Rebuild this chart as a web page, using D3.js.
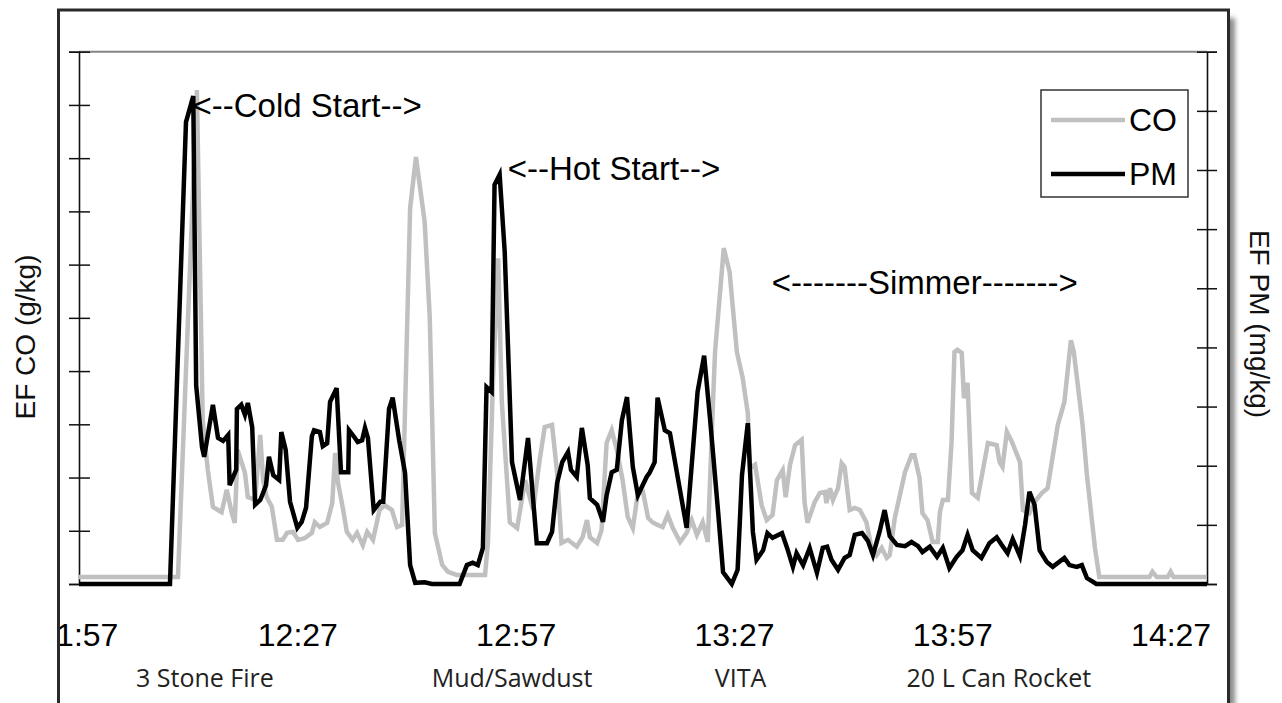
<!DOCTYPE html>
<html>
<head>
<meta charset="utf-8">
<script src="https://cdn.jsdelivr.net/npm/d3@7/dist/d3.min.js"></script>
<style>
  body { margin: 0; background: #fff; }
  svg { display: block; }
</style>
</head>
<body>
<svg id="chart" width="1282" height="703"></svg>
<script>
// minutes after 11:57, value on its own axis
var coData = [
  [0,1.3],[13.6,1.3],[16.2,92.8],[17.0,30.8],[17.7,21.4],[18.4,14.5],[19.1,13.9],[19.6,13.5],
  [20.3,17.7],[21.0,13.3],[21.4,11.5],[21.8,25.2],[22.8,20.9],[23.2,16.3],[24.2,15.8],[24.9,28.0],
  [25.3,19.5],[25.8,16.3],[26.5,14.5],[27.2,8.3],[28.0,8.3],[28.6,9.6],[29.4,9.8],[30.1,8.3],
  [31.0,8.6],[32.0,9.6],[32.4,11.6],[33.1,10.7],[34.1,11.5],[34.8,15.2],[35.2,24.6],[35.6,19.0],
  [36.3,13.9],[36.8,9.8],[37.6,8.3],[38.2,9.6],[39.0,7.3],[39.6,9.8],[40.4,8.3],[41.3,13.9],
  [42.0,14.8],[43.0,13.9],[43.7,10.7],[44.4,11.1],[45.5,70.6],[46.3,80.2],[47.5,68.0],[48.2,50.0],
  [48.9,9.6],[49.9,3.6],[50.7,2.3],[51.9,1.7],[55.8,1.7],[56.2,7.9],[56.9,38.7],[57.6,61.2],
  [58.1,34.2],[59.2,11.6],[60.2,10.5],[61.3,19.5],[62.4,13.9],[63.3,23.3],[64.0,29.5],[65.0,29.9],
  [65.7,20.9],[66.3,7.7],[67.2,8.3],[68.4,7.0],[69.2,8.8],[69.8,12.0],[70.2,8.8],[71.2,7.7],
  [71.8,10.1],[72.5,26.5],[73.2,28.9],[73.9,25.2],[74.7,19.5],[75.4,12.6],[76.1,10.5],[76.8,17.1],
  [77.5,17.3],[78.2,12.4],[78.8,11.6],[79.5,11.1],[80.2,10.7],[80.9,13.0],[81.6,10.5],[82.6,7.9],
  [83.5,9.6],[84.2,12.0],[84.9,9.2],[85.7,11.6],[86.4,7.9],[87.1,33.6],[87.4,43.6],[88.6,63.1],
  [89.4,58.6],[90.4,43.6],[91.2,38.7],[91.9,32.1],[92.2,21.8],[92.9,22.4],[93.8,14.8],[94.5,12.0],
  [95.3,13.0],[95.9,19.5],[96.7,21.4],[97.1,16.3],[97.7,22.4],[98.4,26.1],[99.3,27.1],[99.7,15.4],
  [100.1,11.5],[101.1,15.4],[101.8,17.1],[102.5,17.3],[102.7,15.2],[103.2,18.0],[103.6,15.8],[104.3,18.0],
  [104.8,22.7],[105.2,22.0],[105.9,13.9],[106.6,14.3],[107.3,13.9],[108.2,11.6],[108.9,6.8],[109.6,5.4],
  [110.3,6.8],[111.0,4.9],[111.4,5.4],[112.1,12.4],[113.5,21.0],[114.4,24.2],[114.8,24.2],[115.5,19.9],
  [115.9,13.3],[116.6,12.0],[117.3,7.9],[118.0,7.9],[118.3,13.5],[118.7,15.8],[119.4,15.8],[119.9,26.7],
  [120.3,43.6],[120.7,44.0],[121.3,43.4],[121.6,34.9],[122.1,37.8],[122.7,17.1],[123.5,16.2],[124.0,19.9],
  [124.9,26.5],[126.1,26.1],[126.5,22.9],[126.9,22.0],[127.5,28.6],[128.2,26.7],[129.3,22.9],[129.7,13.9],
  [130.6,13.3],[131.3,15.4],[132.3,17.1],[133.1,18.0],[134.5,29.9],[135.4,34.2],[136.3,45.8],[136.7,43.6],
  [137.9,29.9],[138.5,20.5],[139.6,6.8],[140.2,1.3],[147.1,1.3],[147.5,2.3],[148.1,1.3],[149.6,1.3],
  [150.0,2.3],[150.4,1.3],[155,1.3]
];

var pmData = [
  [0,0],[12.5,0],[14.7,78.1],[15.7,82.5],[16.1,33.6],[16.9,23.2],[17.2,21.5],[18.4,30.3],
  [19.1,24.7],[19.8,24.2],[20.5,25.2],[20.7,16.7],[21.6,19.3],[21.7,29.6],[22.3,30.3],[22.8,28.6],
  [23.2,30.6],[23.8,26.5],[24.2,13.4],[24.9,14.2],[25.3,15.4],[25.7,16.7],[26.1,21.5],[26.7,18.4],
  [27.5,17.6],[27.8,25.7],[28.4,22.7],[29.0,13.9],[30.0,9.5],[30.6,10.5],[31.2,12.9],[32.0,25.0],
  [32.3,26.0],[33.1,25.7],[33.5,23.3],[34.1,23.8],[34.5,30.8],[35.4,33.1],[36.0,18.9],[37.0,18.9],
  [37.1,26.0],[37.8,24.9],[38.3,24.0],[38.9,24.3],[39.3,26.4],[39.7,24.7],[40.5,12.5],[41.4,13.9],
  [41.8,13.9],[42.6,29.6],[43.1,31.5],[44.0,24.3],[44.8,18.8],[45.5,3.2],[46.2,0.2],[47.5,0.3],
  [48.5,0],[52.3,0],[53.3,3.2],[54.1,3.6],[54.8,3.2],[55.5,6.1],[56.0,33.3],[56.7,32.5],
  [57.1,67.5],[57.8,69.2],[58.5,56.1],[59.5,20.6],[60.6,14.2],[61.7,24.7],[62.9,6.9],[64.3,6.9],
  [65.0,8.8],[65.7,17.1],[66.4,20.6],[67.2,22.3],[67.6,19.3],[68.4,18.1],[69.1,26.4],[69.9,20.1],
  [70.2,14.5],[71.2,13.4],[72.0,10.5],[72.5,15.0],[73.2,18.9],[73.9,19.3],[74.6,27.7],[75.3,31.6],
  [76.1,19.8],[76.8,15.0],[78.0,18.1],[78.4,18.8],[79.1,20.6],[79.5,31.5],[80.5,26.0],[81.2,25.5],
  [83.5,9.5],[85.0,32.5],[85.9,38.6],[86.7,28.1],[87.8,12.5],[88.5,2.0],[89.7,0],[90.5,2.4],
  [91.1,18.4],[91.9,27.2],[92.6,8.8],[93.1,4.1],[94.0,5.7],[94.6,8.6],[95.3,7.8],[96.6,8.6],
  [97.3,6.1],[98.1,2.9],[98.6,5.2],[99.5,3.2],[100.4,6.1],[101.4,1.9],[102.2,6.1],[102.8,6.3],
  [103.4,4.1],[104.3,2.4],[105.2,4.4],[105.9,4.9],[106.6,8.3],[107.6,8.6],[108.4,7.3],[109.1,4.9],
  [110.0,8.8],[110.7,12.5],[111.4,8.1],[112.4,6.6],[113.5,6.4],[114.4,7.1],[115.3,6.4],[115.9,5.4],
  [116.9,6.3],[117.9,4.6],[118.7,6.1],[119.6,2.7],[120.6,4.6],[121.4,5.7],[122.1,8.3],[122.8,5.7],
  [124.0,4.4],[125.1,6.9],[126.1,7.9],[126.8,6.6],[127.6,5.2],[128.3,7.6],[129.3,4.7],[130.0,10.0],
  [130.6,15.6],[131.3,13.4],[132.0,5.7],[133.0,3.7],[133.8,2.9],[135.4,4.4],[136.1,3.2],[137.1,2.9],
  [137.8,3.2],[138.5,1.0],[139.8,0],[155,0]
];

var startClock = "11:57";
var tickMinutes = d3.range(0, 151, 10);
var coTicks = d3.range(0, 101, 10);
var pmTicks = d3.range(0, 91, 10);
var stoves = ["3 Stone Fire", "Mud/Sawdust", "VITA", "20 L Can Rocket"];
var stoveMinutes = [17.3, 59.5, 90.9, 126.4];
var phases = ["<--Cold Start-->", "<--Hot Start-->", "<-------Simmer------->"];
var phaseMinutes = [15.6, 58.9, 95.2];
var phaseLevels = [79, 68.3, 49];
var seriesNames = ["CO", "PM"];

var svg = d3.select("#chart");
var sans = "'Liberation Sans', Arial, Helvetica, sans-serif";

var x = d3.scaleLinear().domain([0, 155]).range([79, 1207]);
var yCO = d3.scaleLinear().domain([0, 100]).range([584, 51.7]);
var yPM = d3.scaleLinear().domain([0, 90]).range([584, 51.7]);

var parseClock = d3.timeParse("%H:%M");
var fmtClock = d3.timeFormat("%H:%M");
var t0 = parseClock(startClock);

// frame with a soft shadow on the right
var defs = svg.append("defs");
defs.append("filter").attr("id", "blur")
  .attr("x", "-5%").attr("y", "-5%").attr("width", "110%").attr("height", "110%")
  .append("feGaussianBlur").attr("stdDeviation", 2.5);
defs.append("clipPath").attr("id", "frameClip")
  .append("rect").attr("x", 60).attr("y", 11).attr("width", 1166).attr("height", 700);

svg.append("rect")
  .attr("x", 65).attr("y", 18).attr("width", 1170).attr("height", 720)
  .style("fill", "#8a8a8a").attr("filter", "url(#blur)");
svg.append("rect")
  .attr("x", 58.5).attr("y", 10).attr("width", 1170).attr("height", 720)
  .style("fill", "#fff").style("stroke", "#2a2a2a").style("stroke-width", "3px");

// top border of plot area
svg.append("line")
  .attr("x1", x(0)).attr("x2", x(155))
  .attr("y1", yCO(100)).attr("y2", yCO(100))
  .style("stroke", "#858585").style("stroke-width", "2px");

// axes
var gl = svg.append("g").attr("transform", "translate(" + x(0) + ",0)")
  .call(d3.axisLeft(yCO).tickValues(coTicks).tickSizeOuter(0).tickSize(10).tickFormat(""));
gl.selectAll(".tick line").attr("x1", 11).attr("x2", -10);

var gr = svg.append("g").attr("transform", "translate(" + x(155) + ",0)")
  .call(d3.axisRight(yPM).tickValues(pmTicks).tickSizeOuter(0).tickSize(10).tickFormat(""));
gr.selectAll(".tick line").attr("x1", -10).attr("x2", 10);

var gb = svg.append("g").attr("transform", "translate(0," + yCO(0) + ")")
  .attr("clip-path", "url(#frameClip)")
  .call(d3.axisBottom(x).tickValues(tickMinutes).tickSizeOuter(0).tickSize(11)
    .tickFormat(function(m) {
      return m % 30 === 0 ? fmtClock(d3.timeMinute.offset(t0, m)) : "";
    }));
gb.selectAll(".tick line").attr("y1", -10).attr("y2", 11);
gb.selectAll(".tick text").attr("y", 62).attr("dy", 0)
  .style("font-family", sans).style("font-size", "32px").style("fill", "#000");

[gl, gr, gb].forEach(function(g) {
  g.selectAll("path.domain").style("stroke", "#111").style("stroke-width", "1.6px");
  g.selectAll(".tick line").style("stroke", "#111").style("stroke-width", "1.5px");
});

// series
var lineCO = d3.line().x(function(d) { return x(d[0]); }).y(function(d) { return yCO(d[1]); });
var linePM = d3.line().x(function(d) { return x(d[0]); }).y(function(d) { return yPM(d[1]); });

svg.append("path").datum(coData)
  .attr("d", lineCO)
  .style("fill", "none").style("stroke", "#c0c0c0").style("stroke-width", "4.5px")
  .style("stroke-linejoin", "miter");
svg.append("path").datum(pmData)
  .attr("d", linePM)
  .style("fill", "none").style("stroke", "#000").style("stroke-width", "4.5px")
  .style("stroke-linejoin", "miter");

// phase notes
svg.selectAll("text.phase").data(phases).enter().append("text")
  .attr("class", "phase")
  .attr("x", function(d, i) { return x(phaseMinutes[i]); })
  .attr("y", function(d, i) { return yPM(phaseLevels[i]); })
  .style("font-family", sans).style("font-size", "33px").style("fill", "#000")
  .text(function(d) { return d; });

// stove names under the axis
svg.selectAll("text.stove").data(stoves).enter().append("text")
  .attr("class", "stove")
  .attr("x", function(d, i) { return x(stoveMinutes[i]); })
  .attr("y", 687)
  .attr("text-anchor", "middle")
  .style("font-family", "'Open Sans', 'Noto Sans', sans-serif").style("font-size", "25px")
  .style("fill", "#222")
  .text(function(d) { return d; });

// axis titles
svg.append("text")
  .attr("transform", "translate(35,337) rotate(-90)")
  .attr("text-anchor", "middle")
  .style("font-family", sans).style("font-size", "28px").style("fill", "#111")
  .text("EF CO (g/kg)");
svg.append("text")
  .attr("transform", "translate(1250,324) rotate(90)")
  .attr("text-anchor", "middle")
  .style("font-family", sans).style("font-size", "28px").style("fill", "#111")
  .text("EF PM (mg/kg)");

// legend
var lg = svg.append("g").attr("transform", "translate(1041,90)");
lg.append("rect").attr("width", 147).attr("height", 107)
  .style("fill", "#fff").style("stroke", "#333").style("stroke-width", "1.5px");
var legendColors = ["#c0c0c0", "#000"];
seriesNames.forEach(function(name, i) {
  var yy = 30 + i * 54;
  lg.append("line").attr("x1", 10).attr("x2", 84).attr("y1", yy).attr("y2", yy)
    .style("stroke", legendColors[i]).style("stroke-width", "4.5px");
  lg.append("text").attr("x", 88).attr("y", yy + 11)
    .style("font-family", sans).style("font-size", "32px").style("fill", "#000")
    .text(name);
});
</script>
</body>
</html>
